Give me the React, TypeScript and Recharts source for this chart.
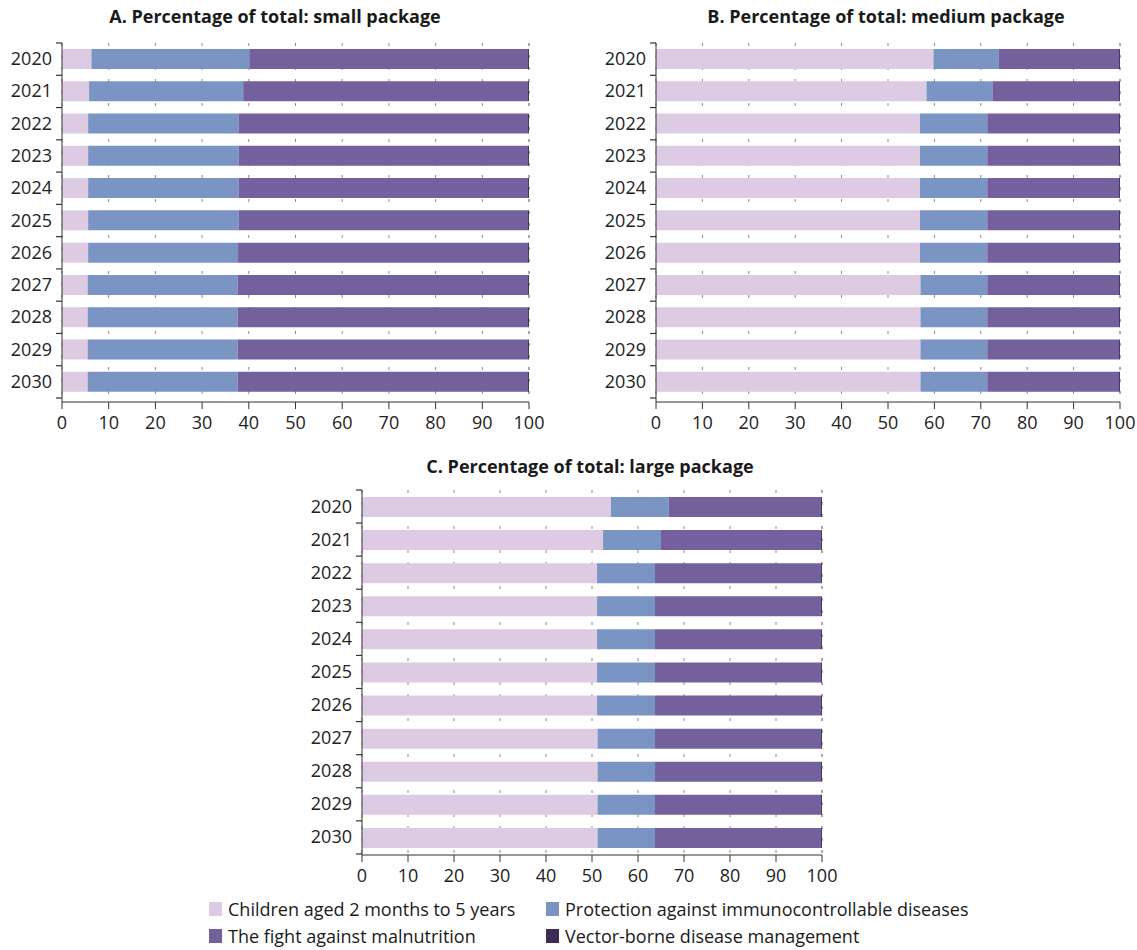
import React from 'react'
import { BarChart, Bar, XAxis, YAxis, CartesianGrid } from 'recharts'

const YEARS = ['2020', '2021', '2022', '2023', '2024', '2025', '2026', '2027', '2028', '2029', '2030']
const X_TICKS = [0, 10, 20, 30, 40, 50, 60, 70, 80, 90, 100]

const SERIES_NAMES = [
  'Children aged 2 months to 5 years',
  'Protection against immunocontrollable diseases',
  'The fight against malnutrition',
  'Vector-borne disease management',
]

// A. small package
const SMALL_CHILDREN = [6.3, 5.8, 5.6, 5.6, 5.6, 5.6, 5.6, 5.5, 5.5, 5.5, 5.5]
const SMALL_IMMUNO = [33.8, 33.0, 32.2, 32.2, 32.2, 32.2, 32.1, 32.1, 32.1, 32.1, 32.1]
const SMALL_MALNUT = [59.7, 61.0, 62.0, 62.0, 62.0, 62.0, 62.1, 62.2, 62.2, 62.2, 62.2]
const SMALL_VECTOR = [0.2, 0.2, 0.2, 0.2, 0.2, 0.2, 0.2, 0.2, 0.2, 0.2, 0.2]

// B. medium package
const MEDIUM_CHILDREN = [59.8, 58.3, 56.9, 56.9, 56.9, 56.9, 56.9, 57.0, 57.0, 57.0, 57.0]
const MEDIUM_IMMUNO = [14.1, 14.2, 14.5, 14.5, 14.5, 14.5, 14.5, 14.4, 14.4, 14.4, 14.4]
const MEDIUM_MALNUT = [25.9, 27.3, 28.4, 28.4, 28.4, 28.4, 28.4, 28.4, 28.4, 28.4, 28.4]
const MEDIUM_VECTOR = [0.2, 0.2, 0.2, 0.2, 0.2, 0.2, 0.2, 0.2, 0.2, 0.2, 0.2]

// C. large package
const LARGE_CHILDREN = [54.1, 52.4, 51.1, 51.1, 51.1, 51.1, 51.1, 51.2, 51.2, 51.2, 51.2]
const LARGE_IMMUNO = [12.6, 12.6, 12.6, 12.6, 12.6, 12.6, 12.6, 12.5, 12.5, 12.5, 12.5]
const LARGE_MALNUT = [33.1, 34.8, 36.1, 36.1, 36.1, 36.1, 36.1, 36.1, 36.1, 36.1, 36.1]
const LARGE_VECTOR = [0.2, 0.2, 0.2, 0.2, 0.2, 0.2, 0.2, 0.2, 0.2, 0.2, 0.2]

const COLORS = ['#dccbe2', '#7a95c4', '#73609c', '#3b2d55']
const FONT = '"Open Sans", Lato, sans-serif'

const buildRows = (a: number[], b: number[], c: number[], d: number[]) =>
  YEARS.map((year, i) => ({ year, children: a[i], immuno: b[i], malnut: c[i], vector: d[i] }))

const KEYS = ['children', 'immuno', 'malnut', 'vector']

function YearTick({ x, y, payload, index, band }: any) {
  return (
    <g>
      <text x={x - 10} y={y} dy={6} textAnchor="end" fill="#222" fontSize={18} fontFamily={FONT}>
        {payload.value}
      </text>
      <line x1={x - 6} x2={x} y1={y + band / 2} y2={y + band / 2} stroke="#333" strokeWidth={1.2} />
      {index === 0 && (
        <line x1={x - 6} x2={x} y1={y - band / 2} y2={y - band / 2} stroke="#333" strokeWidth={1.2} />
      )}
    </g>
  )
}

interface PanelProps {
  title: string
  data: any[]
  left: number
  top: number
  width: number
  height: number
  margin: { top: number; right: number; bottom: number; left: number }
  padBottom: number
  band: number
  titleCenter: number
  titleTop: number
}

function Panel({ title, data, left, top, width, height, margin, padBottom, band, titleCenter, titleTop }: PanelProps) {
  return (
    <>
      <div style={{
        position: 'absolute', left: titleCenter - 250, width: 500, top: titleTop, textAlign: 'center',
        fontFamily: FONT, fontWeight: 700, fontSize: 18, color: '#1a1a1a',
      }}>
        {title}
      </div>
      <div style={{ position: 'absolute', left, top }}>
        <BarChart layout="vertical" width={width} height={height} data={data} margin={margin} barSize={20}>
          <CartesianGrid horizontal={false} stroke="#8a8a8a" strokeDasharray="3 9" />
          <XAxis
            type="number" domain={[0, 100]} ticks={X_TICKS} height={32}
            tick={{ fill: '#222', fontSize: 18, fontFamily: FONT }}
            tickSize={7} tickMargin={7} stroke="#333" interval={0}
          />
          <YAxis
            type="category" dataKey="year" width={55} tick={<YearTick band={band} />}
            tickLine={false} tickSize={0} tickMargin={0} stroke="#333" interval={0}
            padding={{ top: 0, bottom: padBottom }}
          />
          {KEYS.map((k, i) => (
            <Bar key={k} dataKey={k} name={SERIES_NAMES[i]} stackId="s" fill={COLORS[i]} isAnimationActive={false} />
          ))}
        </BarChart>
      </div>
    </>
  )
}

function LegendItem({ color, label, left, top }: { color: string; label: string; left: number; top: number }) {
  return (
    <div style={{ position: 'absolute', left, top, display: 'flex', alignItems: 'center', fontFamily: FONT, fontSize: 18, color: '#1a1a1a', whiteSpace: 'nowrap' }}>
      <span style={{ display: 'inline-block', width: 13, height: 14, background: color, marginRight: 6 }} />
      {label}
    </div>
  )
}

export default function App() {
  const small = buildRows(SMALL_CHILDREN, SMALL_IMMUNO, SMALL_MALNUT, SMALL_VECTOR)
  const medium = buildRows(MEDIUM_CHILDREN, MEDIUM_IMMUNO, MEDIUM_MALNUT, MEDIUM_VECTOR)
  const large = buildRows(LARGE_CHILDREN, LARGE_IMMUNO, LARGE_MALNUT, LARGE_VECTOR)

  return (
    <div style={{ position: 'absolute', left: 0, top: 0, width: 1137, height: 950, background: '#fff', overflow: 'hidden' }}>
      <Panel
        title="A. Percentage of total: small package" data={small}
        left={0} top={30} width={560} height={410}
        margin={{ top: 13, right: 31, bottom: 6, left: 7 }}
        padBottom={4} band={32.3}
        titleCenter={275} titleTop={4}
      />
      <Panel
        title="B. Percentage of total: medium package" data={medium}
        left={590} top={30} width={547} height={410}
        margin={{ top: 13, right: 17, bottom: 6, left: 11 }}
        padBottom={4} band={32.3}
        titleCenter={886} titleTop={4}
      />
      <Panel
        title="C. Percentage of total: large package" data={large}
        left={290} top={475} width={560} height={419}
        margin={{ top: 15, right: 28, bottom: 7, left: 17 }}
        padBottom={1} band={33}
        titleCenter={590} titleTop={454}
      />
      <LegendItem color={COLORS[0]} label={SERIES_NAMES[0]} left={209} top={897} />
      <LegendItem color={COLORS[1]} label={SERIES_NAMES[1]} left={546} top={897} />
      <LegendItem color={COLORS[2]} label={SERIES_NAMES[2]} left={209} top={924} />
      <LegendItem color={COLORS[3]} label={SERIES_NAMES[3]} left={546} top={924} />
    </div>
  )
}
